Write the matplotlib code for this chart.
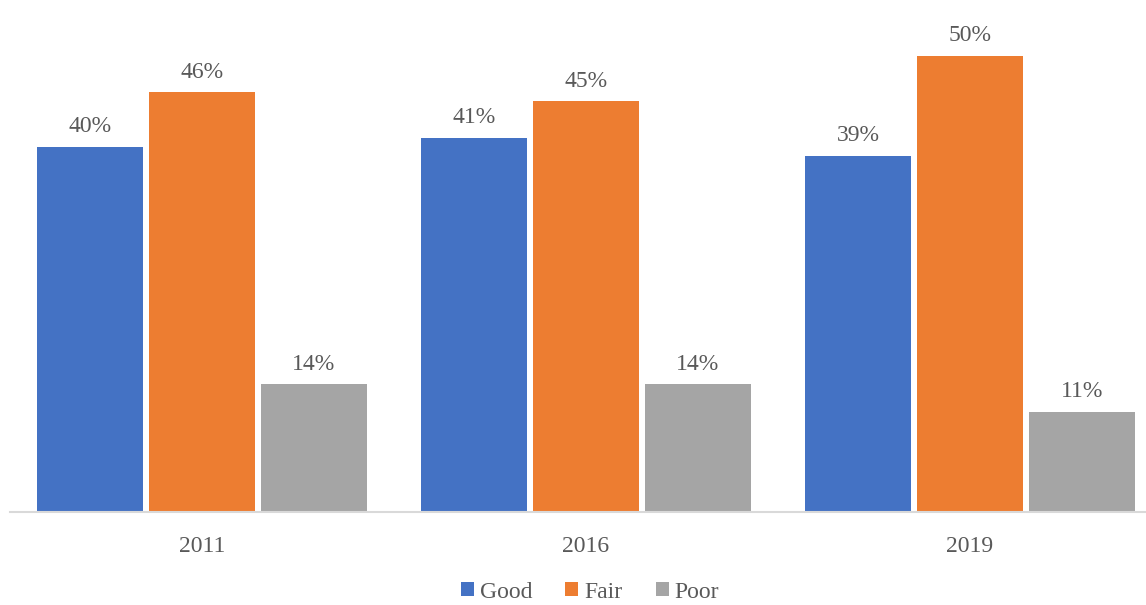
import matplotlib.pyplot as plt
import numpy as np

# ---- Survey shares by year
years = ['2011', '2016', '2019']
good = [40, 41, 39]
fair = [46, 45, 50]
poor = [14, 14, 11]

series = [('Good', good, '#4472C4'),
          ('Fair', fair, '#ED7D31'),
          ('Poor', poor, '#A5A5A5')]

plt.rcParams['font.family'] = ['Liberation Serif', 'DejaVu Serif']
text_col = '#595959'

fig = plt.figure(figsize=(11.46, 6.05), dpi=100)
ax = fig.add_axes([10 / 1146, 93 / 605, 1136 / 1146, 512 / 605])

x = np.arange(len(years))
width = 0.276
step = 0.2917

for i, (name, vals, col) in enumerate(series):
    pos = x + (i - 1) * step
    bars = ax.bar(pos, vals, width, color=col, label=name)
    for b, v in zip(bars, vals):
        ax.annotate(f'{v}%', (b.get_x() + b.get_width() / 2, v),
                    xytext=(0, 7), textcoords='offset points',
                    ha='center', va='bottom', fontsize=17, color=text_col)

ax.set_xlim(-0.5, 1136 / 384 - 0.5)
ax.set_ylim(0, 512 / 9.125)
ax.set_xticks(x)
ax.set_xticklabels(years, fontsize=17, color=text_col)
ax.tick_params(axis='x', length=0, pad=17)
ax.set_yticks([])
for s in ['top', 'right', 'left']:
    ax.spines[s].set_visible(False)
ax.spines['bottom'].set_color('#D9D9D9')
ax.spines['bottom'].set_linewidth(1.5)

leg = fig.legend(loc='center', bbox_to_anchor=(590 / 1146, 13 / 605), ncol=3,
                 frameon=False, fontsize=17, handlelength=0.55, handleheight=0.55,
                 handletextpad=0.25, columnspacing=1.4, borderpad=0.1)
for t in leg.get_texts():
    t.set_color(text_col)

fig.savefig('out.png', dpi=100)
